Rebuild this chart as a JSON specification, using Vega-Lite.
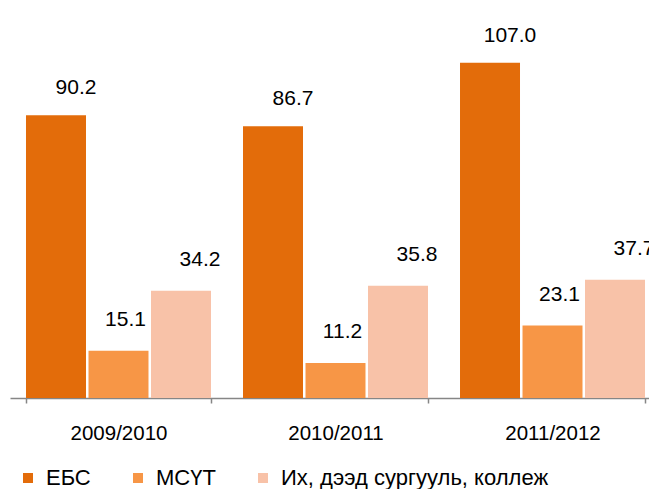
{
  "$schema": "https://vega.github.io/schema/vega-lite/v6.json",
  "width": 639,
  "height": 398,
  "autosize": "none",
  "padding": {"left": 10, "top": 0, "right": 0, "bottom": 91},
  "background": "white",
  "config": {"view": {"stroke": null}, "font": "Liberation Sans"},
  "data": {
    "values": [
      {"year": "2009/2010", "series": "ЕБС", "value": 90.2},
      {"year": "2009/2010", "series": "МСҮТ", "value": 15.1},
      {"year": "2009/2010", "series": "Их, дээд сургууль, коллеж", "value": 34.2},
      {"year": "2010/2011", "series": "ЕБС", "value": 86.7},
      {"year": "2010/2011", "series": "МСҮТ", "value": 11.2},
      {"year": "2010/2011", "series": "Их, дээд сургууль, коллеж", "value": 35.8},
      {"year": "2011/2012", "series": "ЕБС", "value": 107.0},
      {"year": "2011/2012", "series": "МСҮТ", "value": 23.1},
      {"year": "2011/2012", "series": "Их, дээд сургууль, коллеж", "value": 37.7}
    ]
  },
  "encoding": {
    "x": {
      "field": "year", "type": "nominal", "sort": null,
      "scale": {"range": [0, 651], "paddingInner": 0.1475, "paddingOuter": 0.0737},
      "axis": {
        "title": null, "labelAngle": 0, "labelFontSize": 20.5, "labelColor": "#000000",
        "labelFont": "Liberation Sans", "domainColor": "#868686", "domainWidth": 1.5,
        "tickColor": "#868686", "tickWidth": 1.5, "tickSize": 5, "tickBand": "extent",
        "labelPadding": 20
      }
    },
    "xOffset": {
      "field": "series", "type": "nominal",
      "sort": ["ЕБС", "МСҮТ", "Их, дээд сургууль, коллеж"],
      "scale": {"paddingInner": 0.04, "paddingOuter": 0}
    },
    "y": {"field": "value", "type": "quantitative", "scale": {"domain": [0, 127]}, "axis": null}
  },
  "layer": [
    {
      "mark": {"type": "bar", "clip": false},
      "encoding": {
        "color": {
          "field": "series", "type": "nominal",
          "scale": {
            "domain": ["ЕБС", "МСҮТ", "Их, дээд сургууль, коллеж"],
            "range": ["#E36C0A", "#F79646", "#F8C2A8"]
          },
          "legend": {
            "title": null, "orient": "none", "direction": "horizontal",
            "legendX": 7, "legendY": 467, "padding": 0,
            "symbolType": "square", "symbolSize": 100, "symbolStrokeWidth": 0,
            "labelFontSize": 22, "labelColor": "#000000", "labelFont": "Liberation Sans",
            "labelOffset": 7, "columnPadding": 36, "labelLimit": 400
          }
        }
      }
    },
    {
      "transform": [{"filter": "datum.series === 'ЕБС'"}],
      "mark": {"type": "text", "fontSize": 21, "color": "#000000", "baseline": "middle", "dx": 20, "dy": -27},
      "encoding": {"text": {"field": "value", "type": "quantitative", "format": ".1f"}}
    },
    {
      "transform": [{"filter": "datum.series === 'МСҮТ'"}],
      "mark": {"type": "text", "fontSize": 21, "color": "#000000", "baseline": "middle", "dx": 7, "dy": -31},
      "encoding": {"text": {"field": "value", "type": "quantitative", "format": ".1f"}}
    },
    {
      "transform": [{"filter": "datum.series === 'Их, дээд сургууль, коллеж'"}],
      "mark": {"type": "text", "fontSize": 21, "color": "#000000", "baseline": "middle", "dx": 19, "dy": -31},
      "encoding": {"text": {"field": "value", "type": "quantitative", "format": ".1f"}}
    }
  ]
}
